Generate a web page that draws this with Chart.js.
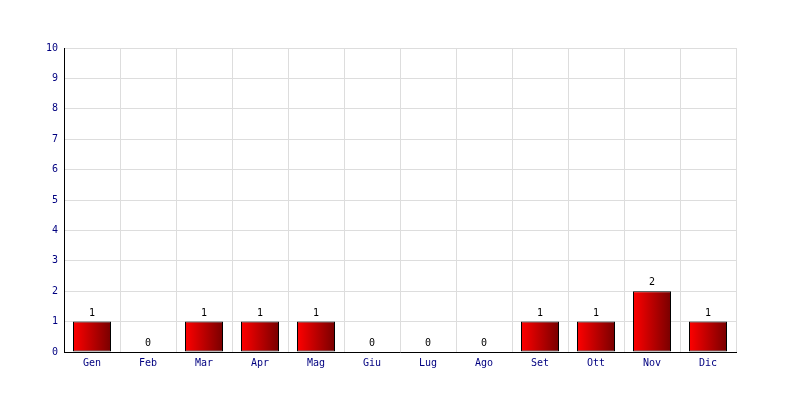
<!DOCTYPE html>
<html>
<head>
<meta charset="utf-8">
<script src="https://cdn.jsdelivr.net/npm/chart.js@4/dist/chart.umd.min.js"></script>
<style>
html,body{margin:0;padding:0;background:#fff;}
#wrap{width:800px;height:400px;}
</style>
</head>
<body>
<div id="wrap"><canvas id="c" width="800" height="400"></canvas></div>
<script>
const months = ['Gen','Feb','Mar','Apr','Mag','Giu','Lug','Ago','Set','Ott','Nov','Dic'];
const counts = [1,0,1,1,1,0,0,0,1,1,2,1];
const yMin = 0, yMax = 10, yStep = 1;

const FONT = 'DejaVu Sans Mono';
const BAR_PCT = 38 / 56;

const labelPlugin = {
  id: 'valueLabels',
  afterDatasetsDraw(chart) {
    const ctx = chart.ctx;
    const meta = chart.getDatasetMeta(0);
    ctx.save();
    ctx.font = '10px "' + FONT + '"';
    ctx.fillStyle = '#000';
    ctx.textAlign = 'center';
    ctx.textBaseline = 'alphabetic';
    meta.data.forEach((el, i) => {
      ctx.fillText(String(counts[i]), el.x, el.y - 6);
    });
    ctx.restore();
  }
};

new Chart(document.getElementById('c'), {
  type: 'bar',
  data: {
    labels: months,
    datasets: [{
      data: counts,
      borderColor: '#000',
      borderWidth: 1,
      borderSkipped: false,
      categoryPercentage: 1,
      barPercentage: BAR_PCT,
      backgroundColor: (c) => {
        const chart = c.chart;
        const xs = chart.scales.x;
        if (!xs || !chart.chartArea) return '#e00000';
        const cx = xs.getPixelForValue(c.dataIndex);
        const w = (xs.width / months.length) * BAR_PCT;
        const g = chart.ctx.createLinearGradient(cx - w / 2, 0, cx + w / 2, 0);
        g.addColorStop(0, '#ff0000');
        g.addColorStop(1, '#780000');
        return g;
      }
    }]
  },
  options: {
    responsive: false,
    animation: false,
    layout: { padding: { top: 48, right: 64, left: 0, bottom: 0 } },
    plugins: { legend: { display: false }, tooltip: { enabled: false } },
    scales: {
      x: {
        offset: true,
        grid: { color: '#dddddd', offset: true, drawTicks: false },
        border: { color: '#000', width: 1 },
        ticks: { color: '#000080', font: { family: FONT, size: 10 }, padding: 5, maxRotation: 0 },
        afterFit: (s) => { s.height = 48; }
      },
      y: {
        min: yMin, max: yMax,
        grid: { color: '#dddddd', drawTicks: false },
        border: { color: '#000', width: 1 },
        ticks: { stepSize: yStep, color: '#000080', font: { family: FONT, size: 10 }, padding: 6 },
        afterFit: (s) => { s.width = 64; }
      }
    }
  },
  plugins: [labelPlugin]
});
</script>
</body>
</html>
